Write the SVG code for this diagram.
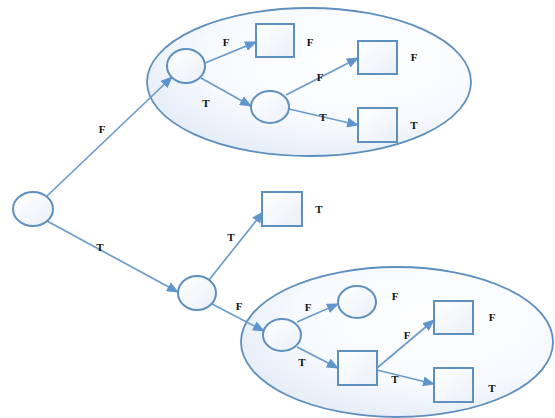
<svg xmlns="http://www.w3.org/2000/svg" width="555" height="418" viewBox="0 0 555 418">
<style>
.grp{fill:url(#gfill);stroke:#5d8fbf;stroke-width:1.8}
.nd{fill:url(#nfill);stroke:#5d8fbf;stroke-width:2}
.ed{stroke:#6a9ccb;stroke-width:1.7;fill:none;marker-end:url(#arr)}
.lb{font-family:"Liberation Serif",serif;font-weight:bold;font-size:11px;fill:#111;text-anchor:middle;dominant-baseline:central}
</style>
<defs>
<radialGradient id="gfill" cx="0.62" cy="0.35" r="0.75">
<stop offset="0" stop-color="#ffffff"/>
<stop offset="0.6" stop-color="#f6f9fd"/>
<stop offset="1" stop-color="#e1eaf5"/>
</radialGradient>
<linearGradient id="nfill" x1="0" y1="0" x2="1" y2="1">
<stop offset="0" stop-color="#ffffff"/>
<stop offset="1" stop-color="#eaf0f8"/>
</linearGradient>
<marker id="arr" markerUnits="userSpaceOnUse" markerWidth="12" markerHeight="10" refX="11" refY="5" orient="auto">
<path d="M0,0 L12,5 L0,10 Z" fill="#5d95cc"/>
</marker>
</defs>
<g id="group-top"><ellipse class="grp" cx="309" cy="82" rx="162" ry="74"/></g>
<g id="group-bottom"><ellipse class="grp" cx="397" cy="342" rx="156" ry="75"/></g>
<g id="connectors">
<line class="ed" x1="47" y1="196" x2="172" y2="77"/>
<line class="ed" x1="47" y1="221" x2="178" y2="292"/>
<line class="ed" x1="205" y1="63" x2="256" y2="42"/>
<line class="ed" x1="201" y1="78" x2="251" y2="106"/>
<line class="ed" x1="286" y1="95" x2="358" y2="58"/>
<line class="ed" x1="289" y1="109" x2="358" y2="125"/>
<line class="ed" x1="209" y1="280" x2="263" y2="212"/>
<line class="ed" x1="212" y1="304" x2="264" y2="331"/>
<line class="ed" x1="297" y1="322" x2="338" y2="304"/>
<line class="ed" x1="297" y1="347" x2="338" y2="368"/>
<line class="ed" x1="377" y1="368" x2="434" y2="320"/>
<line class="ed" x1="377" y1="370" x2="434" y2="384"/>
</g>
<g id="root"><ellipse class="nd" cx="33" cy="209" rx="20" ry="17"/></g>
<g id="n-a"><ellipse class="nd" cx="186" cy="66" rx="19" ry="17"/></g>
<g id="n-top1"><rect class="nd" x="256" y="24" width="38" height="33"/><text class="lb" x="310" y="42">F</text></g>
<g id="n-c"><ellipse class="nd" cx="270" cy="107" rx="19" ry="16"/></g>
<g id="n-top2"><rect class="nd" x="358" y="41" width="39" height="33"/><text class="lb" x="414" y="57">F</text></g>
<g id="n-top3"><rect class="nd" x="358" y="108" width="39" height="34"/><text class="lb" x="414" y="125">T</text></g>
<g id="n-b"><ellipse class="nd" cx="197" cy="293" rx="19" ry="17"/></g>
<g id="n-mid"><rect class="nd" x="262" y="192" width="40" height="34"/><text class="lb" x="319" y="209">T</text></g>
<g id="n-d"><ellipse class="nd" cx="282" cy="335" rx="19" ry="16"/></g>
<g id="n-e"><ellipse class="nd" cx="357" cy="302" rx="19" ry="16"/><text class="lb" x="395" y="296">F</text></g>
<g id="n-g"><rect class="nd" x="338" y="351" width="39" height="34"/></g>
<g id="n-h"><rect class="nd" x="434" y="301" width="39" height="33"/><text class="lb" x="492" y="317">F</text></g>
<g id="n-i"><rect class="nd" x="434" y="368" width="39" height="34"/><text class="lb" x="492" y="388">T</text></g>
<g id="edge-labels">
<text class="lb" x="102" y="129">F</text>
<text class="lb" x="100" y="247">T</text>
<text class="lb" x="226" y="42">F</text>
<text class="lb" x="206" y="103">T</text>
<text class="lb" x="320" y="77">F</text>
<text class="lb" x="323" y="117">T</text>
<text class="lb" x="231" y="237">T</text>
<text class="lb" x="239" y="306">F</text>
<text class="lb" x="308" y="307">F</text>
<text class="lb" x="302" y="362">T</text>
<text class="lb" x="407" y="335">F</text>
<text class="lb" x="395" y="379">T</text>
</g>
</svg>
